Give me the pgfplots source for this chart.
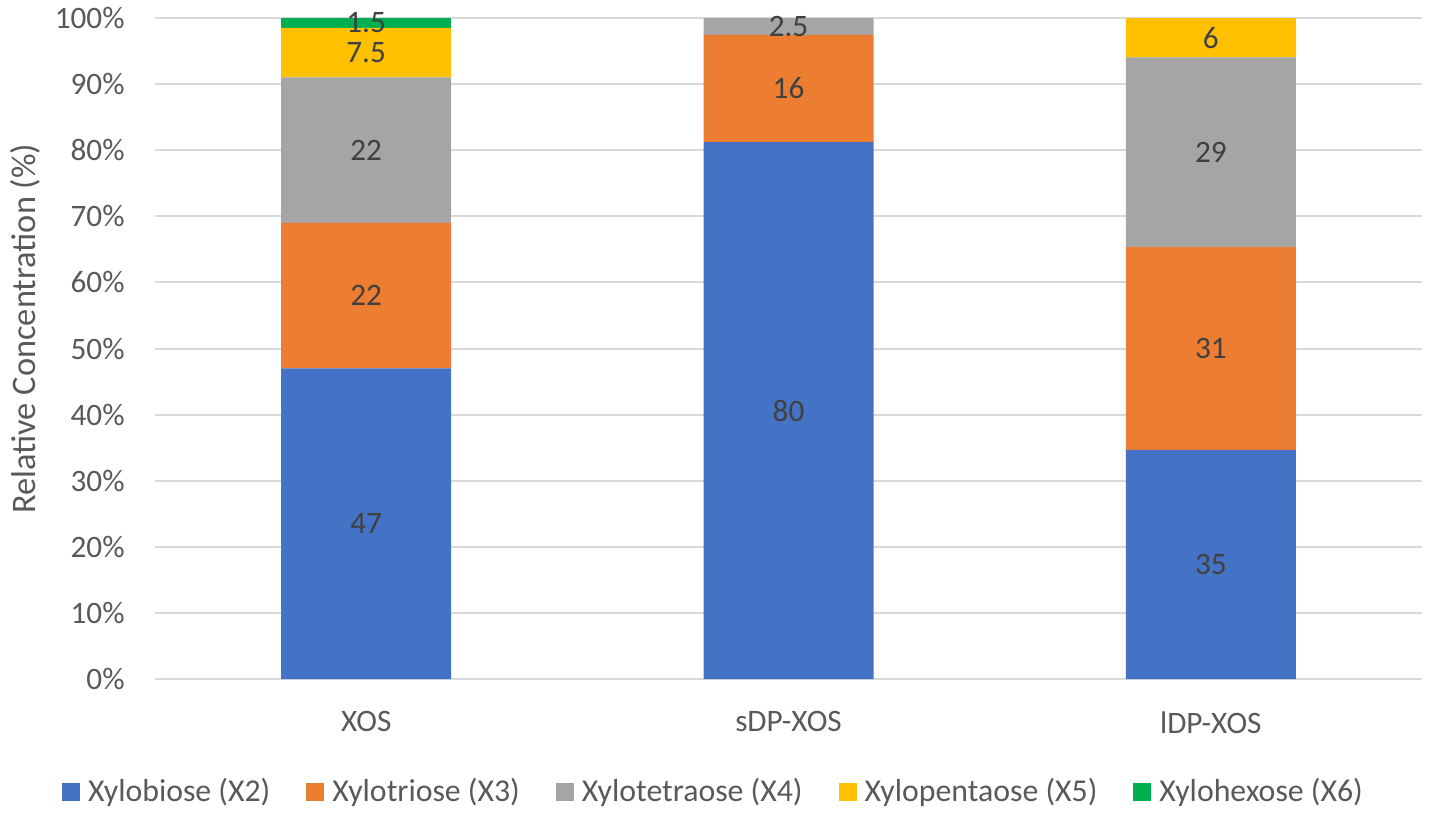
\documentclass[border=0pt]{standalone}
\usepackage{fontspec}
\setmainfont{Carlito}
\usepackage{pgfplots}
\usepackage{pgfplotstable}
\pgfplotsset{compat=1.18}
\definecolor{cA}{HTML}{4472C4}
\definecolor{cB}{HTML}{ED7D31}
\definecolor{cC}{HTML}{A5A5A5}
\definecolor{cD}{HTML}{FFC000}
\definecolor{cE}{HTML}{00B050}
\definecolor{gridgray}{HTML}{D9D9D9}
\definecolor{txt}{HTML}{595959}
\definecolor{lbl}{HTML}{404040}
\pgfplotstableread{
x a b c d e ma mb mc md me
0 47 22 22 7.5 1.5 47 22 22 7.5 1.5
1 80 16 2.5 0 0 80 16 2.5 {} {}
2 35 31 29 6 0 35 31 29 6 {}
}\data
\newcommand{\tot}{(\thisrow{a}+\thisrow{b}+\thisrow{c}+\thisrow{d}+\thisrow{e})}
\newcommand{\fs}{\fontsize{15.6pt}{18pt}\selectfont}
\begin{document}
\fs
\begin{tikzpicture}
\useasboundingbox (0,0) rectangle (715pt,-407pt);
\begin{axis}[
  at={(77.5pt,-339.5pt)}, anchor=south west,
  scale only axis, width=633.5pt, height=330.5pt,
  ybar stacked, bar width=85pt,
  xmin=-0.5, xmax=2.5, ymin=0, ymax=100,
  xtick={0,1,2}, xticklabels={XOS,sDP-XOS,lDP-XOS},
  ytick={0,10,...,100},
  yticklabel={\pgfmathprintnumber{\tick}\%},
  /pgf/number format/assume math mode=true,
  ymajorgrids, grid style={draw=gridgray, line width=1pt},
  axis x line*=bottom, axis y line*=left,
  x axis line style={draw=gridgray, line width=1pt},
  y axis line style={draw=none},
  major tick length=0pt,
  tick label style={font=\fs, text=txt},
  yticklabel style={inner sep=0pt, anchor=east, xshift=-15pt},
  xticklabel style={inner sep=0pt, anchor=north, yshift=-16pt},
  ylabel={Relative Concentration (\%)},
  ylabel style={at={(axis description cs:-0.102,0.53)}, anchor=center, font=\fontsize{17.2pt}{20pt}\selectfont, text=txt},
  legend columns=5,
  legend style={at={(axis description cs:-0.0734,-0.171)}, anchor=west, draw=none, fill=none,
    inner sep=0pt, outer sep=0pt,
    nodes={inner sep=0pt},
    font=\fontsize{15.9pt}{18pt}\selectfont, text=txt,
    /tikz/every odd column/.append style={column sep=4pt},
    /tikz/every even column/.append style={column sep=18pt}},
  legend image code/.code={\fill[#1] (0pt,-4.5pt) rectangle (9pt,4.5pt);},
  nodes near coords={\ifdim\segh pt<0.01pt\relax\else\pgfplotspointmeta\fi},
  point meta=explicit symbolic,
  every node near coord/.append style={anchor=center, text=lbl, font=\fs},
]
\addplot[fill=cA, draw=none, visualization depends on={\thisrow{a} \as \segh}]
  table[x=x, y expr=\thisrow{a}*100/\tot, meta=ma] {\data};
\addplot[fill=cB, draw=none, visualization depends on={\thisrow{b} \as \segh}]
  table[x=x, y expr=\thisrow{b}*100/\tot, meta=mb] {\data};
\addplot[fill=cC, draw=none, visualization depends on={\thisrow{c} \as \segh}]
  table[x=x, y expr=\thisrow{c}*100/\tot, meta=mc] {\data};
\addplot[fill=cD, draw=none, visualization depends on={\thisrow{d} \as \segh}]
  table[x=x, y expr=\thisrow{d}*100/\tot, meta=md] {\data};
\addplot[fill=cE, draw=none, visualization depends on={\thisrow{e} \as \segh}]
  table[x=x, y expr=\thisrow{e}*100/\tot, meta=me] {\data};
\legend{Xylobiose (X2),Xylotriose (X3),Xylotetraose (X4),Xylopentaose (X5),Xylohexose (X6)}
\end{axis}
\end{tikzpicture}
\end{document}
